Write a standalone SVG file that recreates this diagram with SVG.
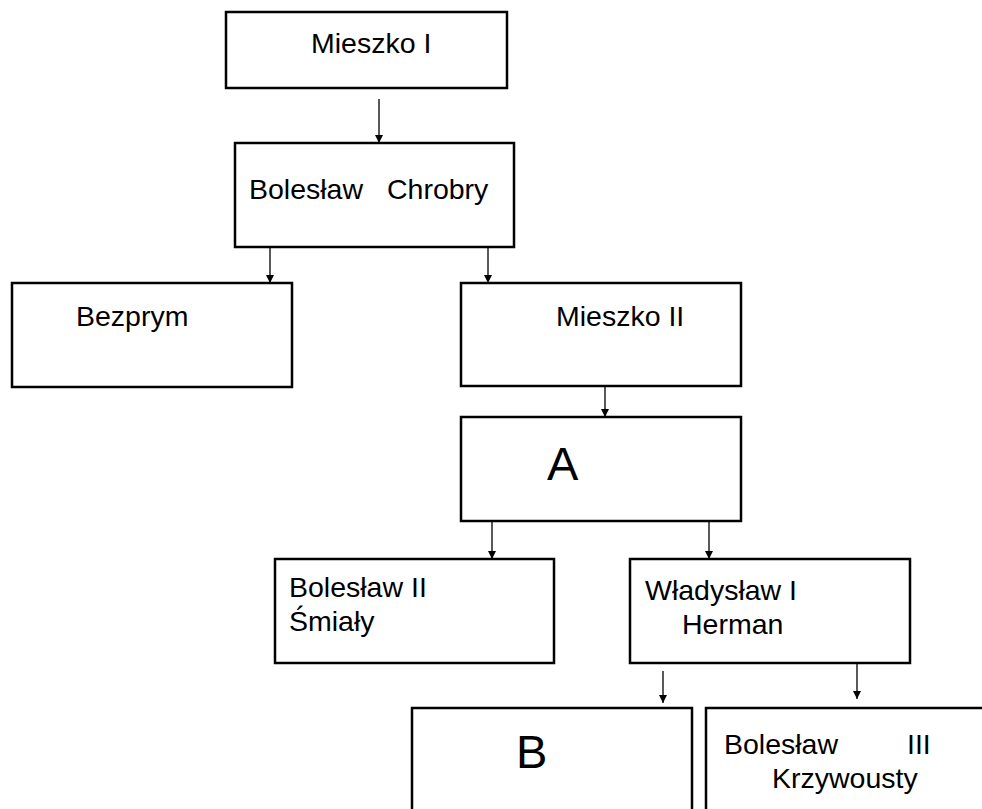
<svg xmlns="http://www.w3.org/2000/svg" width="982" height="809" viewBox="0 0 982 809">
<style>
.box{fill:#fff;stroke:#000;stroke-width:2.5}
.t{font-family:"Liberation Sans",Arial,Helvetica,sans-serif;font-size:28.5px;fill:#000}
.big{font-size:47px}
.c{stroke:#000;stroke-width:1.3;fill:none;marker-end:url(#ah)}
</style>
<defs>
<marker id="ah" viewBox="0 0 10 10" refX="10" refY="5" markerWidth="8" markerHeight="8" markerUnits="userSpaceOnUse" orient="auto">
<path d="M0,0 L10,5 L0,10 z" fill="#000"/>
</marker>
</defs>
<rect width="982" height="809" fill="#fff"/>
<g id="connectors">
<line class="c" x1="379" y1="99" x2="379" y2="143"/>
<line class="c" x1="270" y1="247" x2="270" y2="283"/>
<line class="c" x1="488" y1="247" x2="488" y2="283"/>
<line class="c" x1="605" y1="386" x2="605" y2="417"/>
<line class="c" x1="492" y1="521" x2="492" y2="559"/>
<line class="c" x1="709" y1="521" x2="709" y2="559"/>
<line class="c" x1="663" y1="671" x2="663" y2="703"/>
<line class="c" x1="857" y1="663" x2="857" y2="699"/>
</g>
<g id="mieszko1">
<rect class="box" x="226" y="12" width="281" height="76"/>
<text class="t" x="311" y="53">Mieszko I</text>
</g>
<g id="chrobry">
<rect class="box" x="235" y="143" width="279" height="104"/>
<text class="t" x="249" y="199">Bolesław</text>
<text class="t" x="387" y="199">Chrobry</text>
</g>
<g id="bezprym">
<rect class="box" x="12" y="283" width="280" height="104"/>
<text class="t" x="76" y="326">Bezprym</text>
</g>
<g id="mieszko2">
<rect class="box" x="461" y="283" width="280" height="103"/>
<text class="t" x="556" y="326">Mieszko II</text>
</g>
<g id="a">
<rect class="box" x="461" y="417" width="280" height="104"/>
<text class="t big" x="547" y="480">A</text>
</g>
<g id="boleslaw2">
<rect class="box" x="275" y="559" width="279" height="104"/>
<text class="t" x="289" y="597">Bolesław II</text>
<text class="t" x="289" y="631">Śmiały</text>
</g>
<g id="wladyslaw">
<rect class="box" x="630" y="559" width="280" height="104"/>
<text class="t" x="645" y="600">Władysław I</text>
<text class="t" x="682" y="634">Herman</text>
</g>
<g id="b">
<rect class="box" x="412" y="708" width="280" height="120"/>
<text class="t big" x="516" y="768">B</text>
</g>
<g id="boleslaw3">
<rect class="box" x="706" y="708" width="300" height="120"/>
<text class="t" x="724" y="754">Bolesław</text>
<text class="t" x="907" y="754">III</text>
<text class="t" x="772" y="788">Krzywousty</text>
</g>
</svg>
